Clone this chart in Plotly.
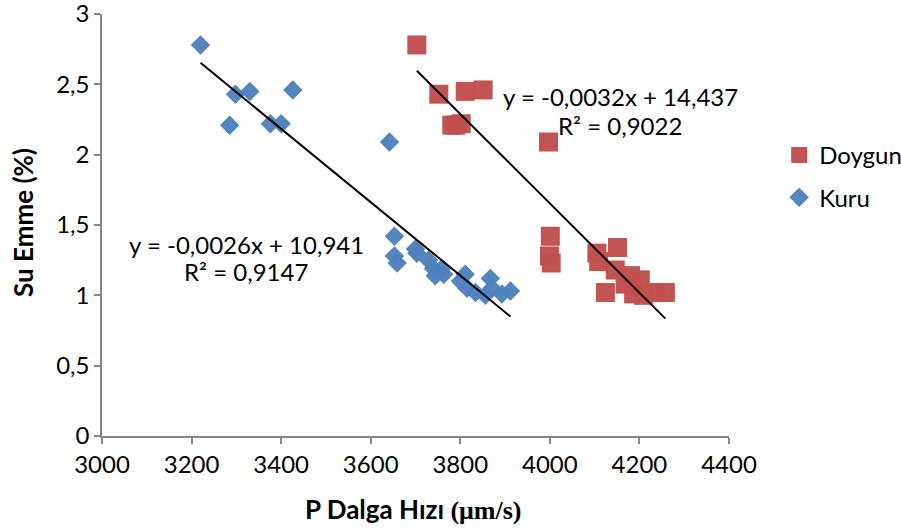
import numpy as np
import plotly.graph_objects as go

# Kuru (dry) series
kuru_x = [3220, 3298, 3330, 3426, 3285, 3376, 3400, 3642,
          3653, 3653, 3659, 3700, 3703, 3729, 3740, 3759, 3744, 3763,
          3800, 3811, 3815, 3834, 3867, 3871, 3856, 3912, 3893]
kuru_y = [2.78, 2.43, 2.45, 2.46, 2.21, 2.22, 2.22, 2.09,
          1.42, 1.28, 1.23, 1.33, 1.30, 1.25, 1.19, 1.19, 1.14, 1.15,
          1.10, 1.15, 1.05, 1.02, 1.12, 1.05, 1.00, 1.03, 1.01]

# Doygun (saturated) series
doygun_x = [3703, 3752, 3811, 3851, 3781, 3802, 3790, 3997,
            4001, 3999, 4003, 4105, 4109, 4151, 4146, 4180, 4202,
            4124, 4187, 4209, 4258, 4235, 4168]
doygun_y = [2.78, 2.43, 2.45, 2.46, 2.21, 2.22, 2.21, 2.09,
            1.42, 1.28, 1.23, 1.30, 1.24, 1.34, 1.18, 1.14, 1.11,
            1.02, 1.01, 1.00, 1.02, 1.02, 1.08]

x_ticks = [3000, 3200, 3400, 3600, 3800, 4000, 4200, 4400]
y_ticks = [0, 0.5, 1, 1.5, 2, 2.5, 3]
y_tick_labels = ["0", "0,5", "1", "1,5", "2", "2,5", "3"]

eq_kuru = ["y = -0,0026x + 10,941", "R² = 0,9147"]
eq_doygun = ["y = -0,0032x + 14,437", "R² = 0,9022"]

RED = "#C0504D"
BLUE = "#4F81BD"
FONT = "Lato"
FS = 24

fig = go.Figure()

fig.add_trace(go.Scatter(
    x=doygun_x, y=doygun_y, mode="markers", name="Doygun",
    legendgroup="d",
    marker=dict(symbol="square", size=19, color=RED, opacity=0.97,
                line=dict(width=0)),
))
fig.add_trace(go.Scatter(
    x=kuru_x, y=kuru_y, mode="markers", name="Kuru",
    legendgroup="k",
    marker=dict(symbol="diamond", size=15, color=BLUE, opacity=0.97,
                line=dict(width=0)),
))

# linear trendlines from data
for xs, ys in [(kuru_x, kuru_y), (doygun_x, doygun_y)]:
    a, b = np.polyfit(xs, ys, 1)
    lx = np.array([min(xs), max(xs)])
    fig.add_trace(go.Scatter(
        x=lx, y=a * lx + b, mode="lines", showlegend=False,
        line=dict(color="black", width=2), hoverinfo="skip",
    ))

ann_font = dict(family=FONT, size=FS, color="black")
fig.add_annotation(x=3322, y=1.365, text=eq_kuru[0], showarrow=False, font=ann_font)
fig.add_annotation(x=3322, y=1.173, text=eq_kuru[1], showarrow=False, font=ann_font)
fig.add_annotation(x=4157, y=2.417, text=eq_doygun[0], showarrow=False, font=ann_font)
fig.add_annotation(x=4157, y=2.21, text=eq_doygun[1], showarrow=False, font=ann_font)

# axis titles
fig.add_annotation(
    xref="paper", yref="paper", x=0, y=0.5, xshift=-79, yshift=2,
    xanchor="center", yanchor="middle", textangle=-90, showarrow=False,
    text="<b>Su Emme (%)</b>", font=dict(family=FONT, size=26, color="black"))
fig.add_annotation(
    xref="paper", yref="paper", x=0.5, y=0, yshift=-73, xshift=-3,
    xanchor="center", yanchor="middle", showarrow=False,
    text="<b>P Dalga Hızı <span style='font-family:Liberation Serif'>(μm/s)</span></b>",
    font=dict(family=FONT, size=26, color="black"))

axis_col = "#868686"
fig.update_layout(
    width=901, height=530,
    margin=dict(l=102, r=172, t=14, b=94, autoexpand=False),
    paper_bgcolor="white", plot_bgcolor="white",
    font=dict(family=FONT, size=FS, color="black"),
    showlegend=True,
    legend=dict(x=1.08, y=0.718, xanchor="left", yanchor="top",
                font=dict(family=FONT, size=FS, color="black"),
                bgcolor="rgba(0,0,0,0)", tracegroupgap=8,
                traceorder="grouped", itemwidth=30),
    xaxis=dict(
        range=[3000, 4400], tickmode="array", tickvals=x_ticks,
        ticktext=[str(v) for v in x_ticks], automargin=False,
        showline=True, linecolor=axis_col, linewidth=1.5,
        ticks="outside", ticklen=6, tickcolor=axis_col, tickwidth=1.5,
        showgrid=False, zeroline=False,
        tickfont=dict(family=FONT, size=FS, color="black"),
    ),
    yaxis=dict(
        range=[0, 3.0001], tickmode="array", tickvals=y_ticks, ticktext=y_tick_labels,
        automargin=False, ticklabeloverflow="allow",
        showline=True, linecolor=axis_col, linewidth=1.5,
        ticks="outside", ticklen=6, tickcolor=axis_col, tickwidth=1.5,
        showgrid=False, zeroline=False,
        tickfont=dict(family=FONT, size=FS, color="black"),
    ),
)

fig.write_html(
    "out.html",
    config={"displayModeBar": False},
    post_script="document.body.style.margin='0';document.body.style.overflow='hidden';",
)
